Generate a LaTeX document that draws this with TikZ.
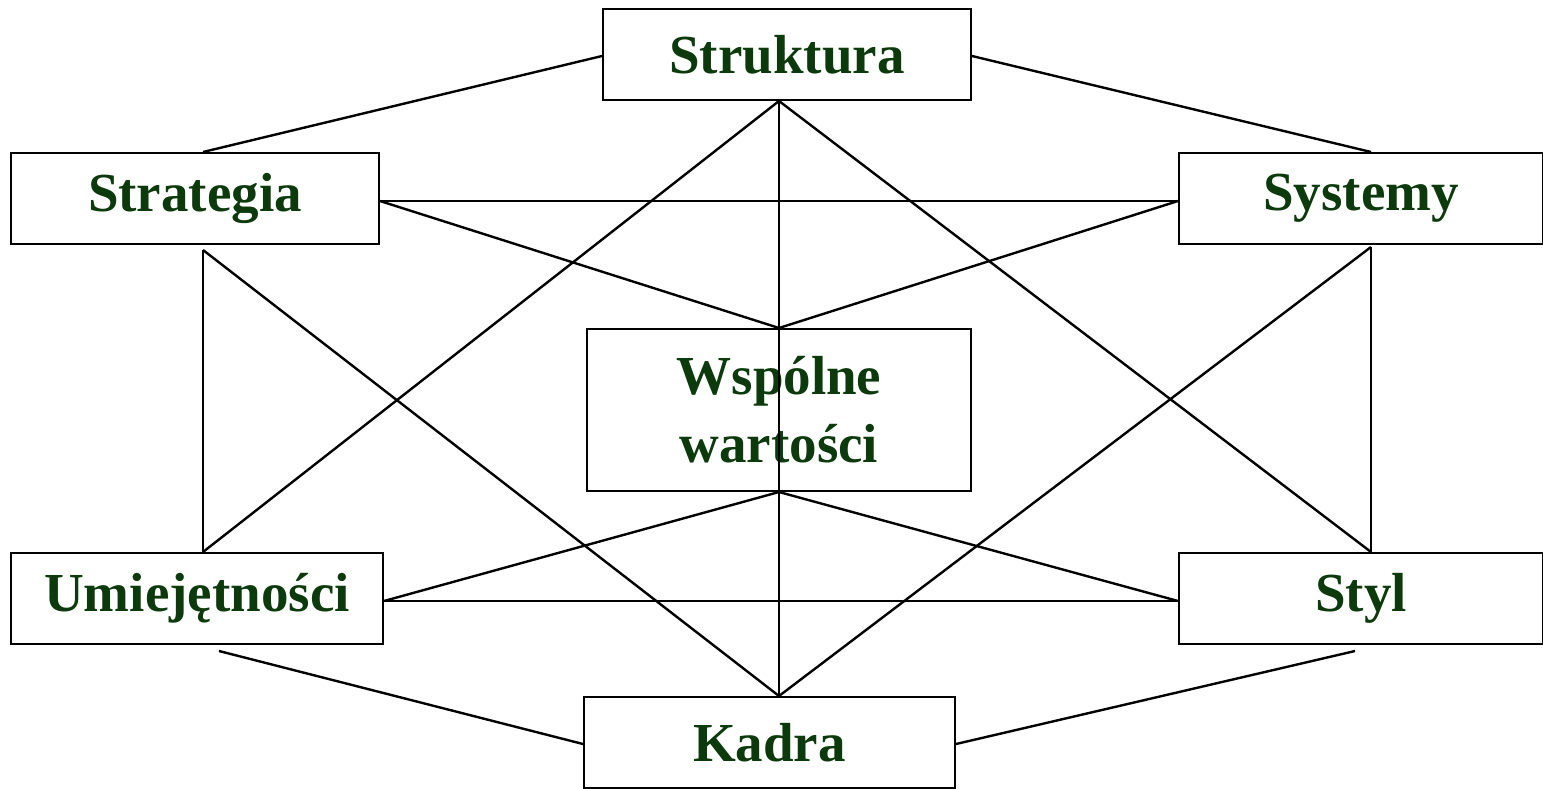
\documentclass[tikz,border=0pt]{standalone}
\usepackage{fontspec}
\setmainfont{Liberation Serif}
\usetikzlibrary{calc}
\definecolor{labelgreen}{RGB}{12,58,12}
\begin{document}
\begin{tikzpicture}[x=0.5pt,y=-0.5pt,
  box/.style={draw=black,line width=1pt,fill=white,inner sep=0pt,
    minimum height=45.5pt,align=center,text=labelgreen,
    font=\fontsize{27.5}{34}\selectfont\bfseries},
  link/.style={line width=1.2pt,black}]
\useasboundingbox (0,0) rectangle (1543,788);

% the seven elements
\node[box,minimum width=184pt] (struk) at (787,54.5) {Struktura};
\node[box,minimum width=184pt] (strat) at (195,198.5) {Strategia};
\node[box,minimum width=182pt] (syst) at (1361,198.5) {Systemy};
\node[box,minimum width=192pt,minimum height=81pt] (wsp) at (779,410) {Wspólne\\wartości};
\node[box,minimum width=186pt] (umie) at (197,598.5) {Umiejętności};
\node[box,minimum width=182pt] (styl) at (1361,598.5) {Styl};
\node[box,minimum width=185.5pt] (kadra) at (769.5,742.5) {Kadra};

% attachment points
\coordinate (strukW) at ($(struk.west)+(0,1.5)$);
\coordinate (strukE) at ($(struk.east)+(0,1.5)$);
\coordinate (strukS) at ($(struk.south)+(-8,0)$);
\coordinate (stratN) at ($(strat.north)+(8,0)$);
\coordinate (stratE) at ($(strat.east)+(0,2.5)$);
\coordinate (stratS) at ($(strat.south)+(8,5)$);
\coordinate (systN) at ($(syst.north)+(10,0)$);
\coordinate (systW) at ($(syst.west)+(0,2.5)$);
\coordinate (systS) at ($(syst.south)+(10,2)$);
\coordinate (umieN) at ($(umie.north)+(6,0)$);
\coordinate (umieE) at ($(umie.east)+(0,2.5)$);
\coordinate (umieS) at ($(umie.south)+(22,6)$);
\coordinate (stylN) at ($(styl.north)+(10,0)$);
\coordinate (stylW) at ($(styl.west)+(0,2.5)$);
\coordinate (stylS) at ($(styl.south)+(-6,6)$);
\coordinate (kadraN) at ($(kadra.north)+(9.5,0)$);
\coordinate (kadraW) at ($(kadra.west)+(0,1.5)$);
\coordinate (kadraE) at ($(kadra.east)+(0,1.5)$);

% outer ring
\draw[link] (strukW) -- (stratN);
\draw[link] (strukE) -- (systN);
\draw[link] (stratS) -- (umieN);
\draw[link] (systS) -- (stylN);
\draw[link] (umieS) -- (kadraW);
\draw[link] (stylS) -- (kadraE);
% horizontals
\draw[link] (stratE) -- (systW);
\draw[link] (umieE) -- (stylW);
% diagonals from Struktura
\draw[link] (strukS) -- (umieN);
\draw[link] (strukS) -- (stylN);
% diagonals to Kadra
\draw[link] (stratS) -- (kadraN);
\draw[link] (systS) -- (kadraN);
% links to shared values
\draw[link] (stratE) -- (wsp.north);
\draw[link] (systW) -- (wsp.north);
\draw[link] (wsp.south) -- (umieE);
\draw[link] (wsp.south) -- (stylW);
% central vertical
\draw[link] (strukS) -- (kadraN);
\end{tikzpicture}
\end{document}
